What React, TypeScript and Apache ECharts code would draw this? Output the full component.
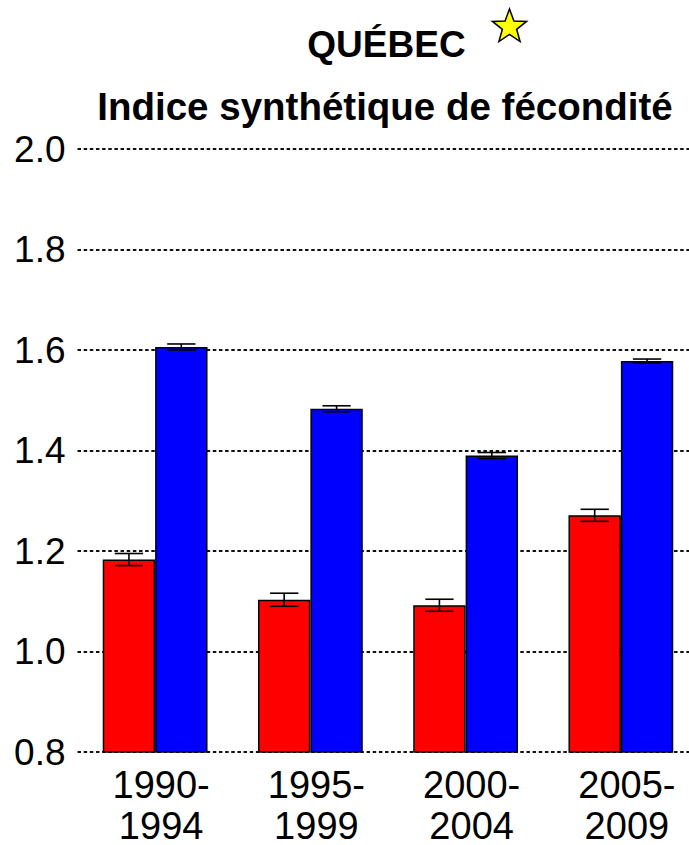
import React, { useEffect, useRef } from "react";
import * as echarts from "echarts";

const categories = ["1990-\n1994", "1995-\n1999", "2000-\n2004", "2005-\n2009"];
const redValues = [1.183, 1.103, 1.092, 1.271];
const redErrors = [0.012, 0.013, 0.012, 0.012];
const blueValues = [1.606, 1.483, 1.39, 1.578];
const blueErrors = [0.006, 0.006, 0.006, 0.004];
const yTicks = { min: 0.8, max: 2.0, interval: 0.2 };
const titleLine1 = "QUÉBEC";
const titleLine2 = "Indice synthétique de fécondité";

const FONT = "'Liberation Sans', Arial, sans-serif";
const CAT_GAP = 0.325;

function starPoints(cx: number, cy: number, ro: number, ri: number) {
  const pts: number[][] = [];
  for (let i = 0; i < 10; i++) {
    const r = i % 2 === 0 ? ro : ri;
    const a = -Math.PI / 2 + (i * Math.PI) / 5;
    pts.push([cx + r * Math.cos(a), cy + r * Math.sin(a)]);
  }
  return pts;
}

function errorSeries(values: number[], errors: number[], side: number) {
  return {
    type: "custom",
    z: 5,
    data: values.map((v, i) => [i, v - errors[i], v + errors[i]]),
    renderItem: (params: any, api: any) => {
      const idx = api.value(0);
      const lo = api.coord([idx, api.value(1)]);
      const hi = api.coord([idx, api.value(2)]);
      const band = api.size([1, 0])[0];
      const barW = (band * (1 - CAT_GAP)) / 2;
      const x = lo[0] + (side * barW) / 2;
      const cap = barW * 0.27;
      const style = { stroke: "#000", lineWidth: 1.6 };
      return {
        type: "group",
        children: [
          { type: "line", shape: { x1: x, y1: lo[1], x2: x, y2: hi[1] }, style },
          { type: "line", shape: { x1: x - cap, y1: lo[1], x2: x + cap, y2: lo[1] }, style },
          { type: "line", shape: { x1: x - cap, y1: hi[1], x2: x + cap, y2: hi[1] }, style },
        ],
      };
    },
  };
}

export default function App() {
  const ref = useRef<HTMLDivElement>(null);
  useEffect(() => {
    if (!ref.current) return;
    const chart = echarts.init(ref.current, null, { renderer: "svg" });
    chart.setOption({
      animation: false,
      backgroundColor: "#fff",
      grid: {
        left: 77.5,
        top: 149,
        width: 621,
        height: 603,
        containLabel: false,
        outerBoundsMode: "none",
      },
      xAxis: {
        type: "category",
        data: categories,
        axisLine: { show: false },
        axisTick: { show: false },
        axisLabel: {
          color: "#000",
          fontFamily: FONT,
          fontSize: 38,
          lineHeight: 41,
          margin: 12,
          padding: [0, 0, 0, 12],
        },
      },
      yAxis: {
        type: "value",
        min: yTicks.min,
        max: yTicks.max,
        interval: yTicks.interval,
        axisLine: { show: false },
        axisTick: { show: false },
        axisLabel: {
          color: "#000",
          fontFamily: FONT,
          fontSize: 37,
          margin: 12,
          formatter: (v: number) => v.toFixed(1),
        },
        splitLine: { show: true, lineStyle: { color: "#111", width: 2, type: [3.5, 2.65] } },
      },
      series: [
        {
          type: "bar",
          data: redValues,
          barGap: "0%",
          barCategoryGap: CAT_GAP * 100 + "%",
          itemStyle: { color: "#ff0000", borderColor: "#000", borderWidth: 1.5 },
        },
        {
          type: "bar",
          data: blueValues,
          barGap: "0%",
          barCategoryGap: CAT_GAP * 100 + "%",
          itemStyle: { color: "#0000ff", borderColor: "#000", borderWidth: 1.5 },
        },
        errorSeries(redValues, redErrors, -1),
        errorSeries(blueValues, blueErrors, 1),
      ],
      graphic: [
        {
          type: "text",
          x: 386.5,
          y: 44.5,
          style: {
            text: titleLine1,
            fontFamily: FONT,
            fontWeight: "bold",
            fontSize: 37,
            fill: "#000",
            align: "center",
            verticalAlign: "middle",
          },
        },
        {
          type: "text",
          x: 385,
          y: 106,
          style: {
            text: titleLine2,
            fontFamily: FONT,
            fontWeight: "bold",
            fontSize: 38.5,
            fill: "#000",
            align: "center",
            verticalAlign: "middle",
          },
        },
        {
          type: "polygon",
          shape: { points: starPoints(509.5, 27, 18, 7.5) },
          style: { fill: "#ffff00", stroke: "#000", lineWidth: 1.5 },
        },
      ],
    });
    return () => chart.dispose();
  }, []);
  return (
    <div
      ref={ref}
      style={{ position: "absolute", left: 0, top: 0, width: 689, height: 845 }}
    />
  );
}
